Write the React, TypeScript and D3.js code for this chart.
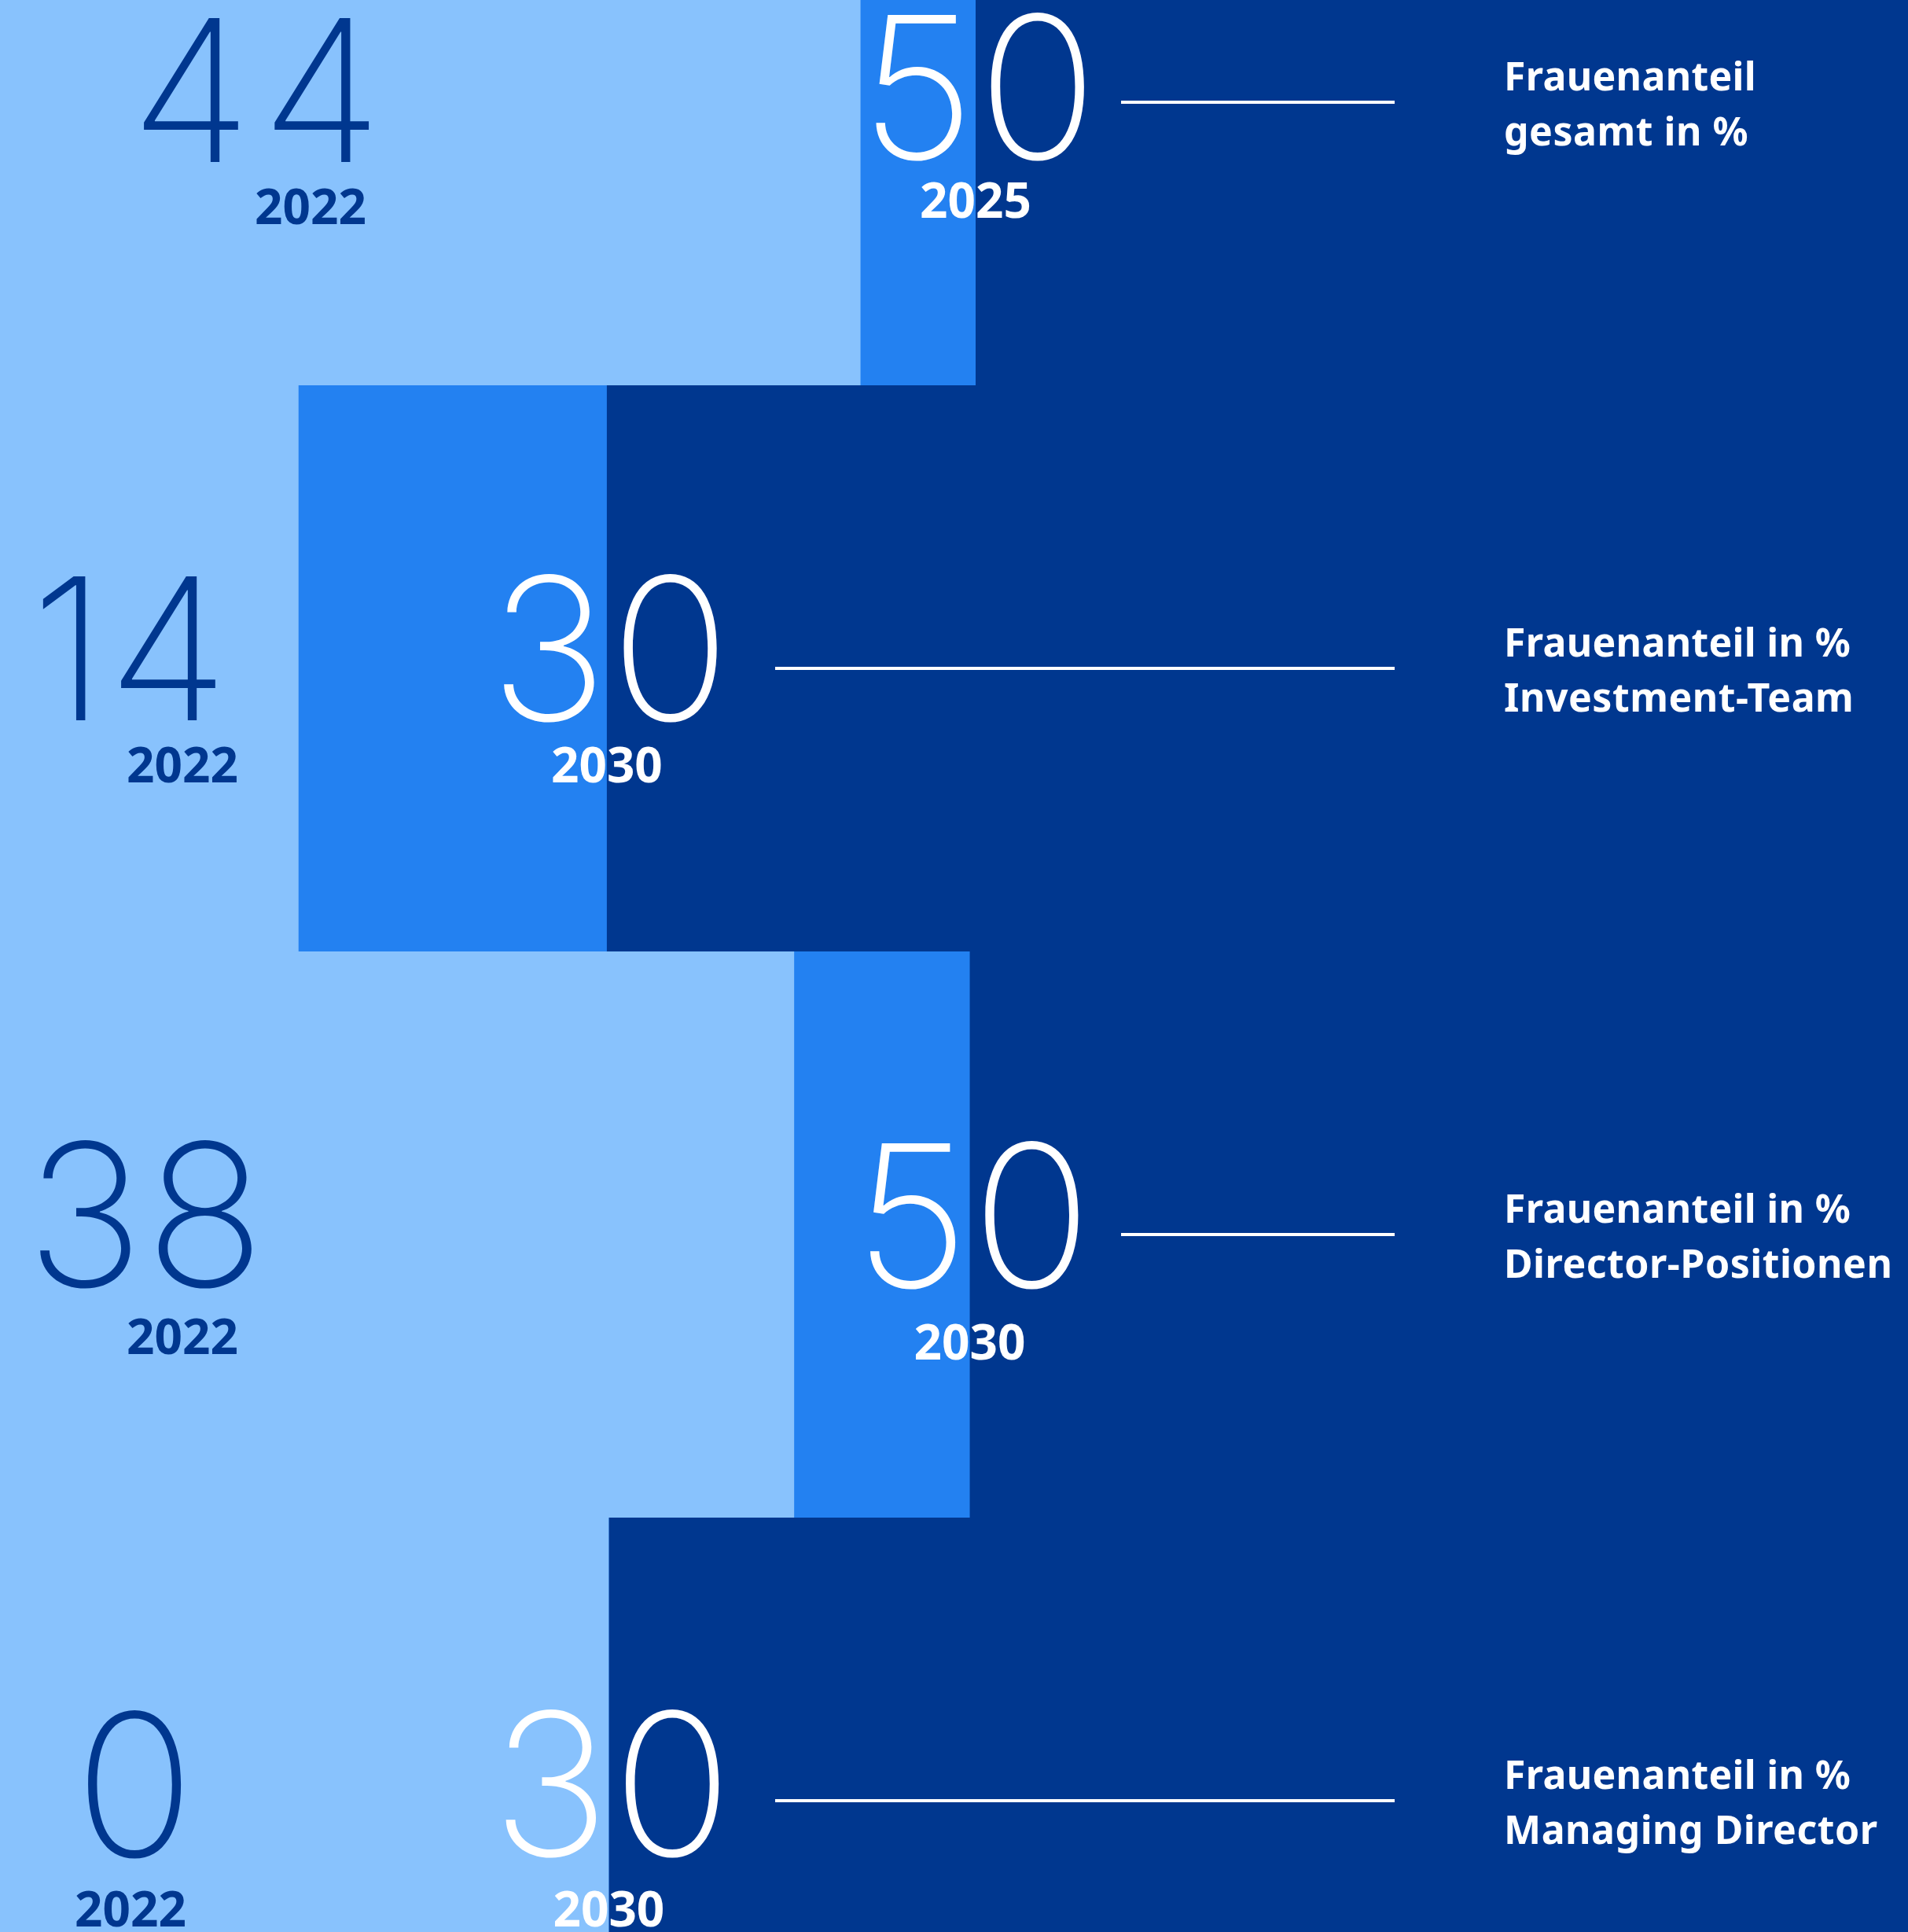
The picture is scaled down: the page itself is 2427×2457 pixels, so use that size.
import React from "react";
import * as d3 from "d3";

// ---- data ----
const categories = [
  "Frauenanteil gesamt in %",
  "Frauenanteil in % Investment-Team",
  "Frauenanteil in % Director-Positionen",
  "Frauenanteil in % Managing Director",
];
const labelLine1 = ["Frauenanteil", "Frauenanteil in %", "Frauenanteil in %", "Frauenanteil in %"];
const labelLine2 = ["gesamt in %", "Investment-Team", "Director-Positionen", "Managing Director"];
const currentValues = [44, 14, 38, 0];
const currentYears = ["2022", "2022", "2022", "2022"];
const targetValues = [50, 30, 50, 30];
const targetYears = ["2025", "2030", "2030", "2030"];
// bar extents as drawn in the picture (percent units)
const barLight = [44.1, 15.3, 40.7, 31.2];
const barTarget = [50.0, 31.1, 49.7, 31.2];

// ---- layout ----
const W = 2427;
const H = 2457;
const ROW_TOP = -230;
const ROW_H = 720;
const leftNumX = [332, 166, 186, 172];
const leftYearX = [395, 232, 232, 166];
const leftNumDy = [76, 66, 66, 71];
const rightNumDy = [72, 66, 67, 70];
const leftYearDy = [155, 145, 152, 160];
const rightYearDy = [147, 145, 159, 160];
const lineStartX = [1426, 986, 1426, 986];
const LINE_END = 1774;
const LABEL_X = 1913;

const COL_LIGHT = "#88C2FD";
const COL_MID = "#2381F1";
const COL_DARK = "#00378F";

export default function App() {
  React.useEffect(() => {
    document.body.style.margin = "0";
  }, []);

  const x = d3.scaleLinear().domain([0, 100]).range([0, 2482]);
  const y = d3
    .scaleBand<string>()
    .domain(categories)
    .range([ROW_TOP, ROW_TOP + ROW_H * categories.length])
    .padding(0);

  const numFont = "Inter, Roboto, sans-serif";
  const boldFont = "'Noto Sans', 'Open Sans', sans-serif";

  return (
    <svg width={W} height={H} style={{ display: "block" }}>
      <rect x={0} y={0} width={W} height={H} fill={COL_DARK} />
      {categories.map((c, i) => {
        const y0 = y(c)!;
        const bh = y.bandwidth();
        return (
          <g key={c}>
            <rect x={x(0)} y={y0} width={x(barTarget[i]) - x(0)} height={bh} fill={COL_MID} />
            <rect x={x(0)} y={y0} width={x(barLight[i]) - x(0)} height={bh} fill={COL_LIGHT} />
          </g>
        );
      })}
      {categories.map((c, i) => {
        const y0 = y(c)!;
        const cy = y0 + y.bandwidth() / 2;
        return (
          <g key={"t" + c}>
            <text
              x={leftNumX[i]}
              y={cy + leftNumDy[i]}
              textAnchor="middle"
              fontFamily={numFont}
              fontWeight={200}
              fontSize={252}
              letterSpacing={i === 0 ? 12 : 2}
              fill={COL_DARK}
            >
              {currentValues[i]}
            </text>
            <text
              x={leftYearX[i]}
              y={cy + leftYearDy[i]}
              textAnchor="middle"
              fontFamily={boldFont}
              fontWeight={700}
              fontSize={62}
              fill={COL_DARK}
            >
              {currentYears[i]}
            </text>
            <text
              x={x(barTarget[i]) + 6}
              y={cy + rightNumDy[i]}
              textAnchor="middle"
              fontFamily={numFont}
              fontWeight={200}
              fontSize={252}
              letterSpacing={4}
              fill="#ffffff"
            >
              {targetValues[i]}
            </text>
            <text
              x={x(barTarget[i])}
              y={cy + rightYearDy[i]}
              textAnchor="middle"
              fontFamily={boldFont}
              fontWeight={700}
              fontSize={62}
              fill="#ffffff"
            >
              {targetYears[i]}
            </text>
            <line
              x1={lineStartX[i]}
              x2={LINE_END}
              y1={cy}
              y2={cy}
              stroke="#ffffff"
              strokeWidth={4}
            />
            <text
              x={LABEL_X}
              y={cy - 15}
              fontFamily={boldFont}
              fontWeight={700}
              fontSize={50}
              letterSpacing={0.3}
              fill="#ffffff"
            >
              {labelLine1[i]}
            </text>
            <text
              x={LABEL_X}
              y={cy + 55}
              fontFamily={boldFont}
              fontWeight={700}
              fontSize={50}
              letterSpacing={0.5}
              fill="#ffffff"
            >
              {labelLine2[i]}
            </text>
          </g>
        );
      })}
    </svg>
  );
}
